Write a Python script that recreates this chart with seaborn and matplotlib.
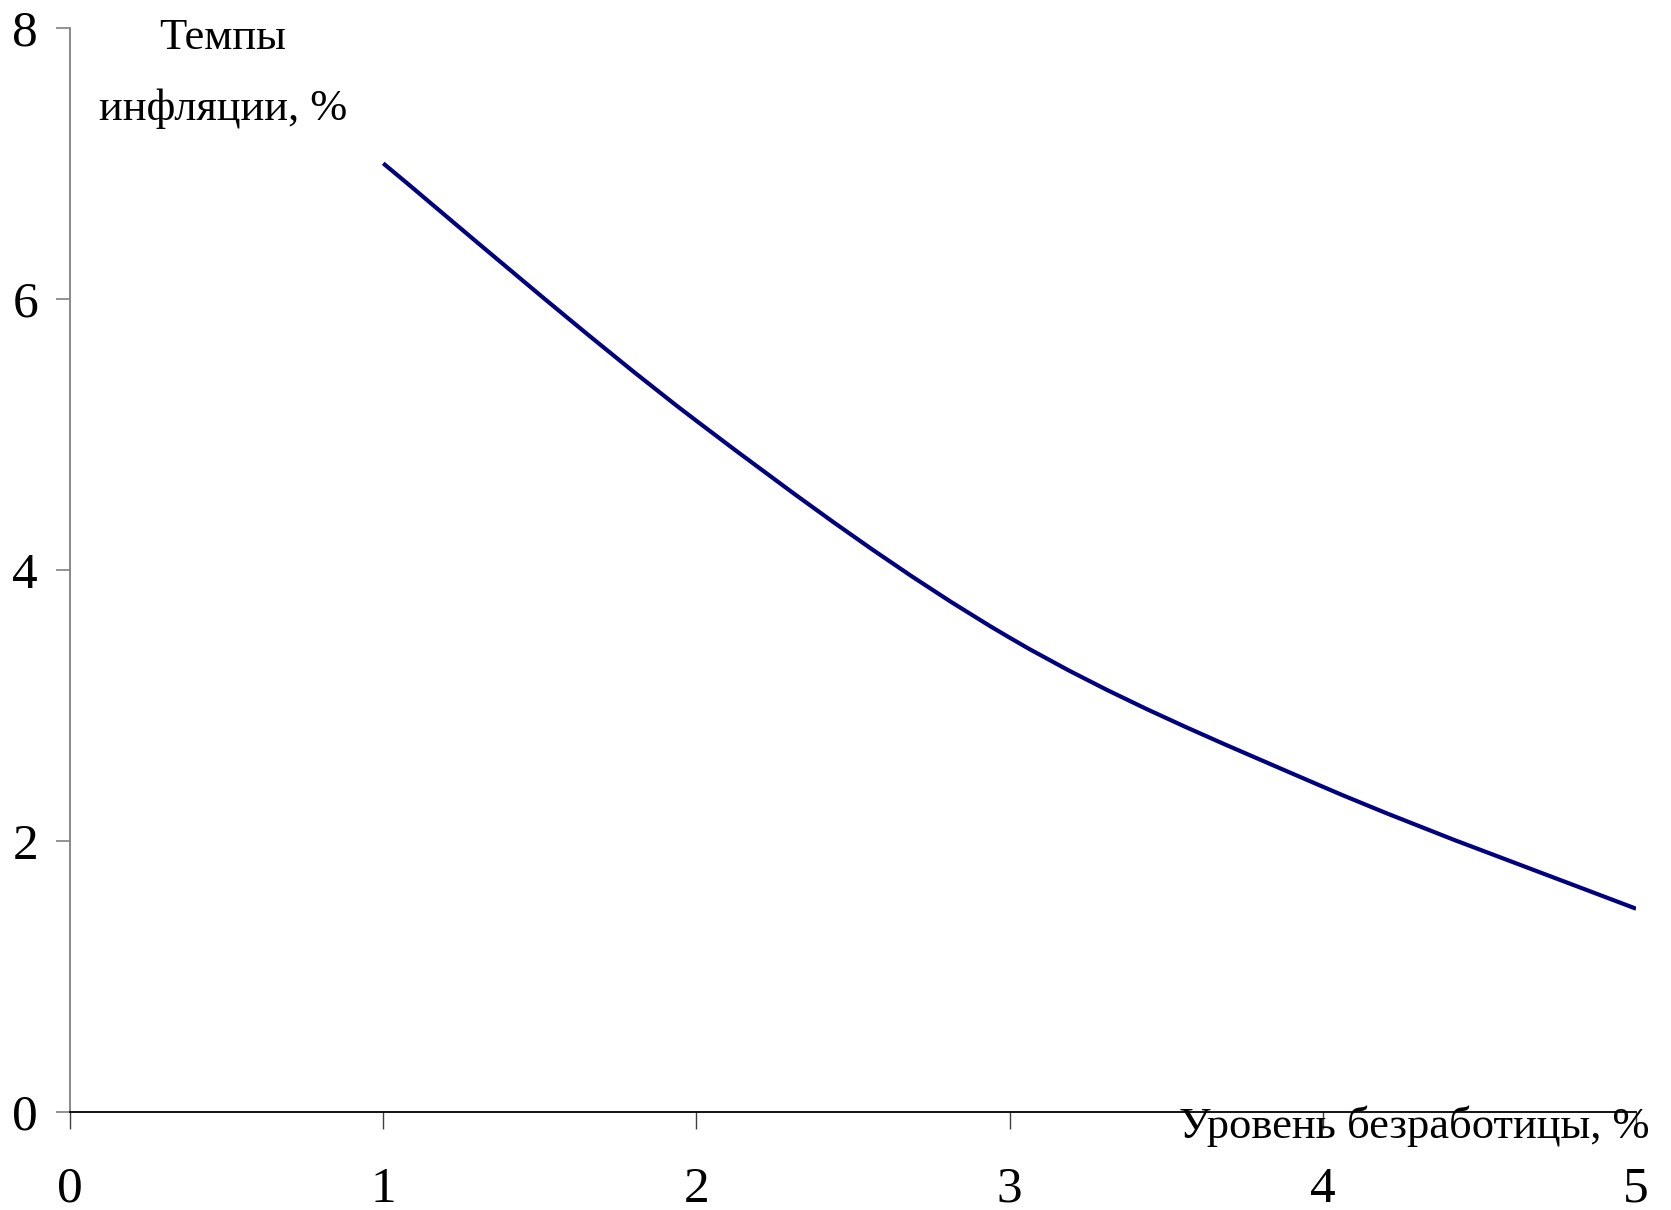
import matplotlib
matplotlib.use("Agg")
import matplotlib.pyplot as plt
import numpy as np
import seaborn as sns
from matplotlib.path import Path
from matplotlib.patches import PathPatch

# Phillips curve: unemployment (%) vs inflation (%)
unemployment = [1, 2, 3, 4, 5]
inflation = [7.0, 5.1, 3.5, 2.4, 1.5]
x_ticks = [0, 1, 2, 3, 4, 5]
y_ticks = [0, 2, 4, 6, 8]
y_label = "Темпы\nинфляции, %"
x_label = "Уровень безработицы, %"

LINE_COLOR = "#000080"
TICK_FS = 37
LABEL_FS = 32


def smooth_path(xs, ys):
    """Excel-style smoothed line: Catmull-Rom segments as cubic Beziers."""
    pts = np.column_stack([xs, ys]).astype(float)
    padded = np.vstack([pts[0], pts, pts[-1]])
    verts = [tuple(pts[0])]
    codes = [Path.MOVETO]
    for i in range(1, len(padded) - 2):
        p0, p1, p2, p3 = padded[i - 1], padded[i], padded[i + 1], padded[i + 2]
        c1 = p1 + (p2 - p0) / 6.0
        c2 = p2 - (p3 - p1) / 6.0
        verts += [tuple(c1), tuple(c2), tuple(p2)]
        codes += [Path.CURVE4] * 3
    return Path(verts, codes)


sns.set_style("white")
plt.rcParams["font.family"] = ["Liberation Serif", "DejaVu Serif"]
plt.rcParams["text.color"] = "black"

fig = plt.figure(figsize=(16.71, 12.10), dpi=100)
ax = fig.add_axes([0.0419, 0.081, 0.9372, 0.896])

ax.add_patch(PathPatch(smooth_path(unemployment, inflation), facecolor="none",
                       edgecolor=LINE_COLOR, lw=3.0, capstyle="butt", zorder=3))

ax.set_xlim(0, 5)
ax.set_ylim(0, 8)
ax.set_xticks(x_ticks)
ax.set_yticks(y_ticks)
ax.set_xticklabels([str(t) for t in x_ticks])
ax.set_yticklabels([str(t) for t in y_ticks])

sns.despine(ax=ax)
ax.spines["left"].set_color("#808080")
ax.spines["left"].set_linewidth(1.3)
ax.spines["bottom"].set_color("black")
ax.spines["bottom"].set_linewidth(1.3)

ax.tick_params(axis="y", length=10, width=1.2, color="#808080", pad=13,
               labelsize=TICK_FS, labelcolor="black", left=True, direction="out")
ax.tick_params(axis="x", length=12, width=1.0, color="#404040", pad=27,
               labelsize=TICK_FS, labelcolor="black", bottom=True, direction="out")

fig.text(0.1335, 0.985, y_label, ha="center", va="top", fontsize=LABEL_FS,
         linespacing=1.95, color="black")
fig.text(0.9874, 0.0595, x_label, ha="right", va="baseline", fontsize=LABEL_FS,
         color="black")

fig.savefig("out.png", dpi=100)
plt.close(fig)
